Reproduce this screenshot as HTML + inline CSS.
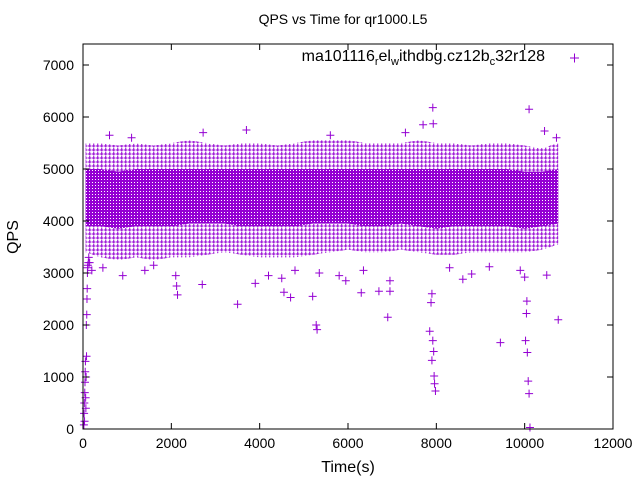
<!DOCTYPE html>
<html><head><meta charset="utf-8">
<style>
html,body{margin:0;padding:0;background:#fff;}
svg{display:block;font-family:"Liberation Sans",sans-serif;}
</style></head>
<body>
<svg id="chart" width="640" height="480" viewBox="0 0 640 480">
<defs>
<pattern id="pSparse" width="4" height="4" patternUnits="userSpaceOnUse">
<path d="M0 2H3.5M1.75 0V3.5" stroke="#9400d3" stroke-width="1"/>
</pattern>
<pattern id="pDense" width="3" height="3" patternUnits="userSpaceOnUse">
<rect width="3" height="3" fill="#9400d3"/><rect x="2" y="2" width="1" height="1" fill="#fff"/>
</pattern>
</defs>
<text x="343" y="24" font-size="14" text-anchor="middle">QPS vs Time for qr1000.L5</text>
<text transform="translate(18,237) rotate(-90)" font-size="16" text-anchor="middle">QPS</text>
<text x="348" y="472" font-size="16" text-anchor="middle">Time(s)</text>
<g id="marks"></g>
<g id="axes"></g>
<rect x="83" y="44" width="530" height="385" fill="none" stroke="#000" stroke-width="1"/>
<g>
<text x="545" y="61" font-size="16" text-anchor="end">ma101116<tspan font-size="11" dy="4">r</tspan><tspan dy="-4">el</tspan><tspan font-size="11" dy="4">w</tspan><tspan dy="-4">ithdbg.cz12b</tspan><tspan font-size="11" dy="4">c</tspan><tspan dy="-4">32r128</tspan></text>
<path d="M570 58H579M574.5 53.5V62.5" stroke="#9400d3" stroke-width="1"/>
</g>
</svg>
<script>
const xTicks=[0,2000,4000,6000,8000,10000,12000];
const yTicks=[0,1000,2000,3000,4000,5000,6000,7000];
const binT=[60,400,800,1200,1600,2000,2400,2800,3200,3600,4000,4400,4800,5200,5600,6000,6400,6800,7200,7600,8000,8400,8800,9200,9600,10000,10400,10760];
const outerLo=[3400,3300,3250,3300,3250,3300,3300,3350,3400,3350,3300,3300,3300,3350,3400,3450,3400,3400,3450,3400,3350,3350,3400,3400,3400,3400,3450,3550];
const outerHi=[5500,5500,5450,5500,5450,5500,5550,5500,5450,5500,5500,5450,5500,5550,5550,5550,5500,5500,5500,5550,5500,5500,5450,5500,5500,5450,5400,5500];
const innerLo=[3900,3900,3850,3900,3900,3900,3950,3950,3950,3900,3900,3900,3900,3950,3950,3950,3900,3900,3950,3900,3850,3900,3900,3900,3900,3850,3900,3950];
const innerHi=[5000,5000,4950,5000,5000,5000,5000,5000,5000,5000,5000,5000,5000,5000,5000,5000,5000,5000,5000,5000,5000,5000,5000,5000,5000,4950,4950,5000];
const outX=[20,25,30,35,40,45,50,55,60,65,70,75,80,85,90,95,100,105,110,120,130,150,200,450,600,900,1100,1400,1600,2100,2120,2140,2700,2720,3500,3700,3900,4200,4500,4550,4700,4800,5200,5280,5300,5350,5600,5800,5950,6300,6350,6700,6900,6950,6950,7300,7700,7850,7880,7900,7900,7920,7920,7930,7940,7950,7960,7980,8300,8600,8800,9200,9450,9900,10000,10020,10040,10050,10060,10080,10100,10100,10120,10450,10500,10720,10760];
const outY=[80,300,500,150,700,900,1100,1300,600,400,1000,2000,1400,2200,2500,2700,3000,3100,3150,3200,3300,3200,3050,3100,5650,2950,5600,3050,3150,2950,2750,2580,2780,5700,2400,5750,2800,2950,2900,2630,2530,3050,2550,2000,1910,3000,5650,2950,2850,2620,3050,2650,2150,2850,2650,5700,5850,1880,2430,1320,2600,1700,6180,5870,1490,1020,870,730,3100,2880,2980,3120,1660,3050,2920,1700,2220,2460,1470,920,680,6150,30,5730,2960,5600,2100];
const X0=83,X1=613,Y0=429,Y1=65;
function sx(v){return X0+(v/12000)*(X1-X0);}
function sy(v){return Y0-(v/7000)*(Y0-Y1);}
const NS='http://www.w3.org/2000/svg';
const marks=document.getElementById('marks');
const axes=document.getElementById('axes');
function band(lo,hi,fill,name){
  let d='M'+sx(binT[0])+' '+sy(hi[0]);
  for(let i=1;i<binT.length;i++)d+='L'+sx(binT[i])+' '+sy(hi[i]);
  for(let i=binT.length-1;i>=0;i--)d+='L'+sx(binT[i])+' '+sy(lo[i]);
  const p=document.createElementNS(NS,'path');
  p.setAttribute('d',d+'Z');p.setAttribute('fill',fill);
  
  
  marks.appendChild(p);
}
band(outerLo,outerHi,'url(#pSparse)','qps-band-outer');
band(innerLo,innerHi,'url(#pDense)','qps-band-core');
for(let i=0;i<outX.length;i++){
  const x=sx(outX[i]),y=sy(outY[i]);
  const p=document.createElementNS(NS,'path');
  p.setAttribute('d','M'+(x-4)+' '+y+'H'+(x+4)+'M'+x+' '+(y-4)+'V'+(y+4));
  p.setAttribute('stroke','#9400d3');
  
  
  marks.appendChild(p);
}
xTicks.forEach(v=>{
  const x=sx(v);
  const t=document.createElementNS(NS,'path');
  t.setAttribute('d','M'+x+' '+Y0+'v-6M'+x+' 44v6');t.setAttribute('stroke','#000');
  
  
  axes.appendChild(t);
  const l=document.createElementNS(NS,'text');
  l.setAttribute('x',x);l.setAttribute('y',448);l.setAttribute('font-size','14');l.setAttribute('text-anchor','middle');
  l.textContent=v;
  
  
  axes.appendChild(l);
});
yTicks.forEach(v=>{
  const y=sy(v);
  const t=document.createElementNS(NS,'path');
  t.setAttribute('d','M'+X0+' '+y+'h6M'+X1+' '+y+'h-6');t.setAttribute('stroke','#000');
  
  
  axes.appendChild(t);
  const l=document.createElementNS(NS,'text');
  l.setAttribute('x',74);l.setAttribute('y',y+5);l.setAttribute('font-size','14');l.setAttribute('text-anchor','end');
  l.textContent=v;
  
  
  axes.appendChild(l);
});
</script>
</body></html>
